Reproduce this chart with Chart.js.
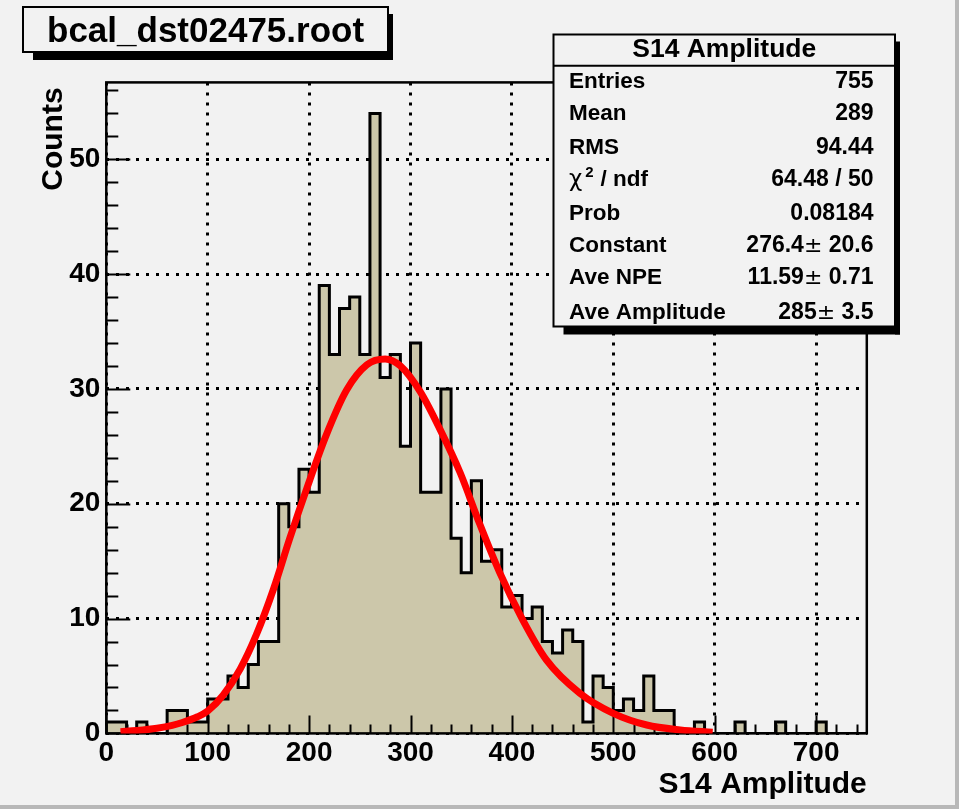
<!DOCTYPE html>
<html><head><meta charset="utf-8">
<script src="https://cdn.jsdelivr.net/npm/chart.js@4"></script>
<style>html,body{margin:0;padding:0;background:#f2f2f2;}canvas{display:block}</style>
</head><body>
<canvas id="c" width="963" height="810"></canvas>
<script>
// ---- data ----
const binLow = 0;
const binWidth = 10;
const counts = [
  1,1,0,1,0,0,2,2,1,1,
  3,3,5,4,6,8,8,20,18,23,
  21,39,33,37,38,33,54,31,33,25,
  34,21,21,30,17,14,22,15,16,11,
  12,10,11,8,7,9,8,1,5,4,
  2,3,2,5,2,2,0,0,1,0,
  0,0,1,0,0,0,1,0,0,0,
  1,0,0,0,0
];
const fitX = [14, 30, 50, 65, 75, 90, 100, 115, 132, 148, 165, 181, 198, 217, 237, 257, 275, 290, 310, 329, 349, 368, 388, 410, 434, 467, 500, 533, 566, 598];
const fitY = [0.15, 0.25, 0.45, 0.7, 0.95, 1.45, 1.95, 3.3, 5.6, 8.6, 12.6, 17.0, 21.4, 26.0, 29.9, 32.1, 32.6, 32.0, 29.7, 26.5, 22.7, 18.3, 14.0, 10.0, 6.4, 3.5, 1.75, 0.73, 0.3, 0.1];
const xTicks = [0, 100, 200, 300, 400, 500, 600, 700];
const yTicks = [0, 10, 20, 30, 40, 50];
const xMax = 750, yMax = 56.7;
const fileTitle = "bcal_dst02475.root";
const histTitle = "S14 Amplitude";
const xTitle = "S14 Amplitude";
const yTitle = "Counts";
const statLabels = ["Entries", "Mean", "RMS", "CHI", "Prob", "Constant", "Ave NPE", "Ave Amplitude"];
const statValues = ["755", "289", "94.44", "64.48 / 50", "0.08184", "276.4\u00b1 20.6", "11.59\u00b1 0.71", "285\u00b1 3.5"];

// ---- build library tables ----
const histPts = [{x: binLow, y: 0}];
counts.forEach((c, i) => histPts.push({x: binLow + i * binWidth, y: c}));
histPts.push({x: binLow + counts.length * binWidth, y: counts[counts.length - 1]});
histPts.push({x: binLow + counts.length * binWidth, y: 0});
const fitPts = fitX.map((x, i) => ({x: x, y: fitY[i]}));

const FONT = '"Liberation Sans", Arial, Helvetica, sans-serif';
const BG = '#f2f2f2';

function shadowBox(ctx, x1, y1, x2, y2) {
  ctx.fillStyle = '#000';
  ctx.fillRect(x1 + 10, y2, x2 + 5 - (x1 + 10), 8);
  ctx.fillRect(x2, y1 + 7, 5, y2 + 8 - (y1 + 7));
  ctx.fillStyle = BG;
  ctx.fillRect(x1, y1, x2 - x1, y2 - y1);
  ctx.strokeStyle = '#000';
  ctx.lineWidth = 2;
  ctx.strokeRect(x1, y1, x2 - x1, y2 - y1);
}
function txt(ctx, s, x, y, font, align) {
  ctx.font = font; ctx.textAlign = align || 'left'; ctx.textBaseline = 'alphabetic';
  ctx.fillStyle = '#000'; ctx.fillText(s, x, y);
  return ctx.measureText(s).width;
}
// right-aligned value, drawing "±" in a wider symbol face
function valueRight(ctx, s, rx, y) {
  const vf = 'bold 23px ' + FONT, pf = '22px "DejaVu Sans", sans-serif';
  const parts = s.split('\u00b1');
  if (parts.length === 1) { txt(ctx, s, rx, y, vf, 'right'); return; }
  ctx.font = vf; const w2 = ctx.measureText(parts[1]).width;
  ctx.font = pf; const wp = ctx.measureText('\u00b1').width;
  txt(ctx, parts[1], rx, y, vf, 'right');
  txt(ctx, '\u00b1', rx - w2, y, pf, 'right');
  txt(ctx, parts[0], rx - w2 - wp, y, vf, 'right');
}

const rootPlugin = {
  id: 'rootLook',
  beforeDraw(chart) {
    const ctx = chart.ctx;
    ctx.save();
    ctx.fillStyle = BG;
    ctx.fillRect(0, 0, chart.width, chart.height);
    ctx.restore();
  },
  afterDatasetDraw(chart, args) {
    if (args.index !== 0) return;
    const ctx = chart.ctx, xs = chart.scales.x, ys = chart.scales.y, a = chart.chartArea;
    ctx.save();
    ctx.strokeStyle = '#000';
    ctx.lineWidth = 2;
    ctx.beginPath();
    for (let v = 0; v <= xMax; v += 20) {
      const px = Math.round(xs.getPixelForValue(v)) + 0.5;
      const len = (v % 100 === 0) ? 18 : 9;
      ctx.moveTo(px, a.bottom); ctx.lineTo(px, a.bottom - len);
    }
    for (let v = 0; v <= yMax; v += 2) {
      const py = Math.round(ys.getPixelForValue(v)) + 0.5;
      const len = (v % 10 === 0) ? 24 : 12;
      ctx.moveTo(a.left, py); ctx.lineTo(a.left + len, py);
    }
    ctx.stroke();
    ctx.lineWidth = 2.5;
    ctx.strokeRect(a.left, a.top, a.right - a.left, a.bottom - a.top);
    ctx.restore();
  },
  afterDraw(chart) {
    const ctx = chart.ctx, a = chart.chartArea;
    ctx.save();
    txt(ctx, xTitle, a.right, 793, 'bold 30px ' + FONT, 'right');
    ctx.save();
    ctx.translate(62, a.top + 5);
    ctx.rotate(-Math.PI / 2);
    txt(ctx, yTitle, 0, 0, 'bold 30px ' + FONT, 'right');
    ctx.restore();
    shadowBox(ctx, 23, 7, 388, 52);
    txt(ctx, fileTitle, 47, 41.5, 'bold 35px ' + FONT, 'left');
    const bx1 = 553.5, by1 = 34.5, bx2 = 895, by2 = 326.5;
    shadowBox(ctx, bx1, by1, bx2, by2);
    ctx.beginPath(); ctx.moveTo(bx1, 65.7); ctx.lineTo(bx2, 65.7); ctx.lineWidth = 2; ctx.strokeStyle = '#000'; ctx.stroke();
    txt(ctx, histTitle, (bx1 + bx2) / 2, 57, 'bold 26.5px ' + FONT, 'center');
    const base = [87.7, 120, 154.3, 185.7, 220, 251.7, 284.3, 319];
    const lx = 569, rx = 873.5;
    statLabels.forEach((lab, i) => {
      if (lab === 'CHI') {
        const w1 = txt(ctx, '\u03c7', lx, base[i], '23px "DejaVu Sans", sans-serif', 'left');
        txt(ctx, '2', lx + w1 + 3, base[i] - 9, 'bold 15px ' + FONT, 'left');
        txt(ctx, ' / ndf', lx + w1 + 12, base[i], 'bold 22.5px ' + FONT, 'left');
      } else {
        txt(ctx, lab, lx, base[i], 'bold 22.5px ' + FONT, 'left');
      }
      valueRight(ctx, statValues[i], rx, base[i]);
    });
    ctx.fillStyle = '#b8b8b8';
    ctx.fillRect(955, 0, 4, 810);
    ctx.fillRect(0, 805, 959, 4);
    ctx.fillStyle = '#ffffff';
    ctx.fillRect(959, 0, 4, 810);
    ctx.fillRect(0, 809, 963, 1);
    ctx.restore();
  }
};

new Chart(document.getElementById('c'), {
  type: 'line',
  data: {
    datasets: [
      {
        label: 'hist', data: histPts, stepped: 'before', order: 1,
        borderColor: '#000', borderWidth: 3, backgroundColor: '#ccc7aa',
        fill: 'origin', pointRadius: 0, tension: 0, borderJoinStyle: 'miter'
      },
      {
        label: 'fit', data: fitPts, order: 0,
        borderColor: '#ff0000', borderWidth: 7, fill: false,
        pointRadius: 0, cubicInterpolationMode: 'monotone', borderCapStyle: 'butt'
      }
    ]
  },
  options: {
    responsive: false, animation: false,
    layout: { padding: { left: 0, right: 96.2, top: 82.4, bottom: 0 } },
    plugins: { legend: { display: false }, tooltip: { enabled: false }, title: { display: false } },
    scales: {
      x: {
        type: 'linear', min: 0, max: xMax,
        afterFit(s) { s.height = 810 - 733.4; },
        afterBuildTicks(s) { s.ticks = xTicks.map(v => ({value: v})); },
        ticks: { color: '#000', font: { family: FONT, size: 28, weight: 'bold' }, padding: 3, maxRotation: 0, autoSkip: false },
        grid: { color: '#000', lineWidth: 3, drawTicks: false },
        border: { display: false, dash: [3, 7] }
      },
      y: {
        type: 'linear', min: 0, max: yMax,
        afterFit(s) { s.width = 106.3; },
        afterBuildTicks(s) { s.ticks = yTicks.map(v => ({value: v})); },
        ticks: { color: '#000', font: { family: FONT, size: 28, weight: 'bold' }, padding: 6, autoSkip: false },
        grid: { color: '#000', lineWidth: 3, drawTicks: false },
        border: { display: false, dash: [3, 7] }
      }
    }
  },
  plugins: [rootPlugin]
});
</script>
</body></html>
